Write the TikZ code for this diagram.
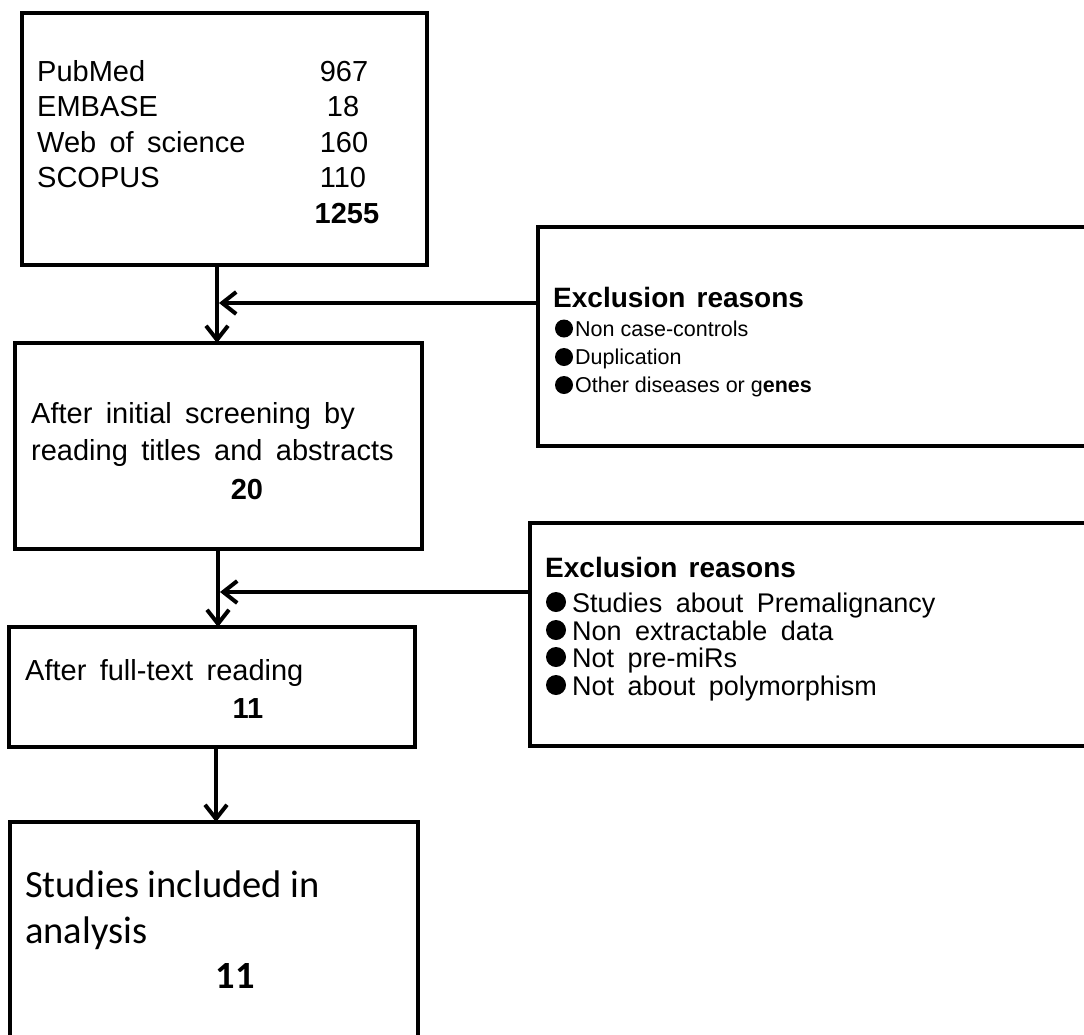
\documentclass[tikz,border=0pt]{standalone}
\usepackage{fontspec}
\setmainfont{Liberation Sans}
\newfontfamily\calfont{Carlito}
\usetikzlibrary{arrows.meta}
\newcommand\wsp[1]{\spaceskip #1\relax}
\begin{document}
\begin{tikzpicture}[x=1pt,y=-1pt,
  box/.style={draw, line width=3.5pt, rectangle, inner sep=0pt, outer sep=0pt},
  txt/.style={inner sep=0pt, anchor=base west, font={\fontsize{29}{32}\selectfont\wsp{0.46em}}},
  num/.style={inner sep=0pt, anchor=base, font={\fontsize{29}{32}\selectfont}},
  bnum/.style={num, font={\fontsize{29}{32}\selectfont\bfseries}},
  head/.style={inner sep=0pt, anchor=base west, font={\fontsize{28}{30}\selectfont\bfseries\wsp{0.4em}}},
  smallitem/.style={inner sep=0pt, anchor=base west, font={\fontsize{21.5}{24}\selectfont}},
  bigitem/.style={inner sep=0pt, anchor=base west, font={\fontsize{27}{30}\selectfont\wsp{0.5em}}},
  calt/.style={inner sep=0pt, anchor=base west, font={\fontsize{38.5}{40}\calfont}},
  calnum/.style={inner sep=0pt, anchor=base, font={\fontsize{38.5}{40}\calfont\bfseries}},
  dot/.style={circle, fill=black, inner sep=0pt, minimum size=#1},
  arr/.style={line width=4pt, -{Straight Barb[length=14pt,width=22pt,line width=4pt]}}
]
\useasboundingbox (0,0) rectangle (1084,1034);
\clip (0,0) rectangle (1084,1034);

% boxes
\node[box, minimum width=405, minimum height=252] (b1) at (224.5,139) {};
\node[box, minimum width=407, minimum height=206] (b2) at (218.5,446) {};
\node[box, minimum width=406, minimum height=120] (b3) at (212,687) {};
\node[box, minimum width=408, minimum height=228] (b4) at (214,936) {};
\node[box, minimum width=557, minimum height=219] (exA) at (816.5,336.5) {};
\node[box, minimum width=565, minimum height=223] (exB) at (812.5,634.5) {};

% box 1 text
\node[txt] (l1) at (37,81) {PubMed};
\node[txt] (l2) at (37,116.5) {EMBASE};
\node[txt] (l3) at (37,152) {Web of science};
\node[txt] (l4) at (37,187.5) {SCOPUS};
\node[num] (n1) at (344,81) {967};
\node[num] (n2) at (343,116.5) {18};
\node[num] (n3) at (344,152) {160};
\node[num] (n4) at (343,187.5) {110};
\node[bnum] (n5) at (347,223) {1255};

% box 2 text
\node[txt] (t2a) at (31,423) {After initial screening by};
\node[txt] (t2b) at (31,460) {reading titles and abstracts};
\node[bnum] (t2c) at (247,499) {20};

% box 3 text
\node[txt] (t3a) at (25,680) {After full-text reading};
\node[bnum] (t3b) at (248,718) {11};

% box 4 text
\node[calt] (t4a) at (25,897) {Studies included in};
\node[calt] (t4b) at (25,943) {analysis};
\node[calnum] (t4c) at (235,988) {11};

% exclusion A
\node[head] (hA) at (553,307) {Exclusion reasons};
\node[dot=18] (dA1) at (564,328.5) {};
\node[dot=18] (dA2) at (564,357) {};
\node[dot=18] (dA3) at (564,385) {};
\node[smallitem] (iA1) at (575,336) {Non case-controls};
\node[smallitem] (iA2) at (575,364.5) {Duplication};
\node[smallitem] (iA3) at (575,392.5) {Other diseases or g{\bfseries enes}};

% exclusion B
\node[head] (hB) at (545,577) {Exclusion reasons};
\node[dot=20] (dB1) at (556,602) {};
\node[dot=20] (dB2) at (556,630) {};
\node[dot=20] (dB3) at (556,657) {};
\node[dot=20] (dB4) at (556,685) {};
\node[bigitem] (iB1) at (572,612) {Studies about Premalignancy};
\node[bigitem] (iB2) at (572,640) {Non extractable data};
\node[bigitem] (iB3) at (572,667) {Not pre-miRs};
\node[bigitem] (iB4) at (572,695) {Not about polymorphism};

% connectors
\coordinate (xA) at (217,303);
\coordinate (xB) at (218,592);
\coordinate (xC) at (216,790);
\draw[arr] (b1.south -| xA) -- (b2.north -| xA);
\draw[arr] (exA.west |- xA) -- ([xshift=2pt]xA);
\draw[arr] (b2.south -| xB) -- (b3.north -| xB);
\draw[arr] (exB.west |- xB) -- ([xshift=2pt]xB);
\draw[arr] (b3.south -| xC) -- (b4.north -| xC);
\end{tikzpicture}
\end{document}
